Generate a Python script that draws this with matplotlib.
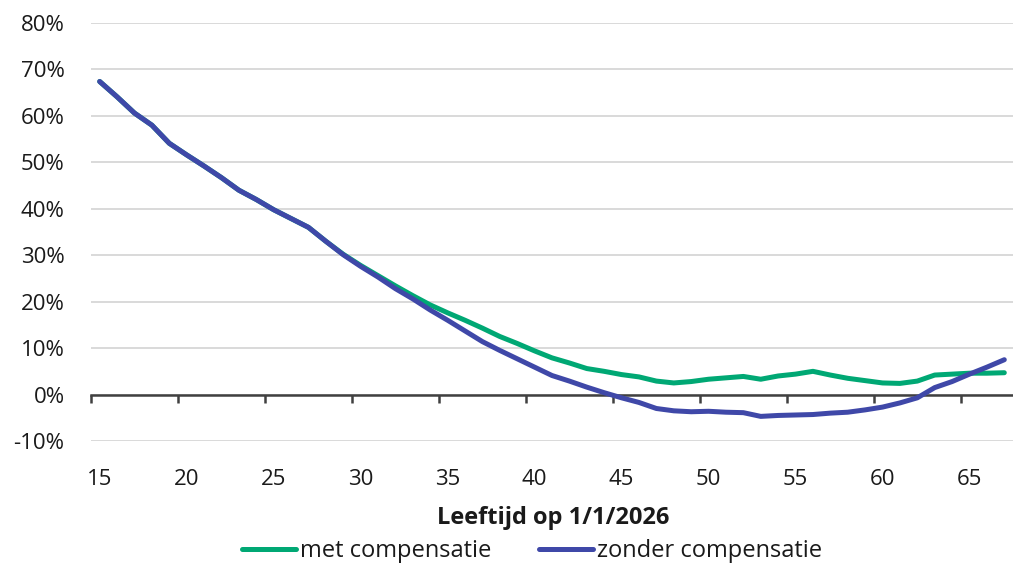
import numpy as np
import matplotlib
matplotlib.use("Agg")
import matplotlib.pyplot as plt
from matplotlib.ticker import FuncFormatter

plt.rcParams["font.family"] = ["Open Sans", "DejaVu Sans"]

# age on 1/1/2026
ages = list(range(15, 68))
# percentage
met_compensatie = [
    67.4, 64.1, 60.6, 58.0, 54.1, 51.6, 49.2, 46.7, 44.0, 42.0,   # 15-24
    39.8, 37.9, 36.0, 33.0, 30.2, 27.8, 25.6, 23.4, 21.3, 19.3,   # 25-34
    17.6, 16.0, 14.3, 12.5, 11.0, 9.4, 7.9, 6.8, 5.6, 5.0,        # 35-44
    4.3, 3.8, 2.9, 2.5, 2.8, 3.3, 3.6, 3.9, 3.3, 4.0,             # 45-54
    4.4, 5.0, 4.2, 3.5, 3.0, 2.5, 2.4, 2.9, 4.2, 4.4,             # 55-64
    4.6, 4.6, 4.7,                                                # 65-67
]
zonder_compensatie = [
    67.4, 64.1, 60.6, 58.0, 54.1, 51.6, 49.2, 46.7, 44.0, 42.0,
    39.8, 37.9, 36.0, 33.0, 30.1, 27.6, 25.3, 22.8, 20.6, 18.2,
    16.0, 13.7, 11.4, 9.5, 7.7, 5.9, 4.1, 2.9, 1.6, 0.4,
    -0.7, -1.7, -3.0, -3.5, -3.7, -3.6, -3.8, -3.9, -4.7, -4.5,
    -4.4, -4.3, -4.0, -3.8, -3.3, -2.7, -1.8, -0.7, 1.5, 2.8,
    4.4, 5.9, 7.5,
]
label_met = "met compensatie"
label_zonder = "zonder compensatie"
x_title = "Leeftijd op 1/1/2026"

GREEN = "#00a874"
BLUE = "#3f48a8"
AXIS = "#404040"
TXT = "#1a1a1a"

fig = plt.figure(figsize=(10.13, 5.67), dpi=100)
ax = fig.add_axes([91 / 1013, 1 - 441 / 567, 1 - 91 / 1013, (441 - 23) / 567])

ax.plot(ages, met_compensatie, color=GREEN, lw=3.6, solid_capstyle="round",
        solid_joinstyle="round", label=label_met, zorder=3)
ax.plot(ages, zonder_compensatie, color=BLUE, lw=3.6, solid_capstyle="round",
        solid_joinstyle="round", label=label_zonder, zorder=4)

ax.set_xlim(14.5, 67.5)
ax.set_ylim(-10, 80)
ax.set_yticks(np.arange(-10, 81, 10))
ax.yaxis.set_major_formatter(FuncFormatter(lambda v, _: f"{v:.0f}%"))
ax.tick_params(axis="y", length=0, pad=19, labelsize=16, labelcolor=TXT)
ax.grid(axis="y", color="#d9d9d9", lw=1.4)
ax.set_axisbelow(True)

for s in ["top", "right", "left"]:
    ax.spines[s].set_visible(False)
ax.spines["bottom"].set_position(("data", 0))
ax.spines["bottom"].set_color(AXIS)
ax.spines["bottom"].set_linewidth(1.8)
ax.spines["bottom"].set_zorder(2)
# tick marks sit between categories, every 5 years
ax.set_xticks(np.arange(14.5, 67, 5))
ax.tick_params(axis="x", direction="out", length=6, width=1.8, color=AXIS,
               labelbottom=False)

sec = ax.secondary_xaxis("bottom")
sec.spines["bottom"].set_visible(False)
sec.set_xticks(range(15, 67, 5))
sec.tick_params(axis="x", length=0, pad=20, labelsize=16, labelcolor=TXT)

fig.text(553 / 1013, 1 - 518 / 567, x_title, ha="center", va="center",
         fontsize=17, fontweight="bold", color=TXT)

fig.legend(loc="center", bbox_to_anchor=(532 / 1013, 1 - 551 / 567), ncol=2,
           frameon=False, fontsize=17, handlelength=2.3, handletextpad=0.17,
           columnspacing=2.0, labelcolor=TXT)

fig.savefig("out.png", dpi=100, facecolor="white")
